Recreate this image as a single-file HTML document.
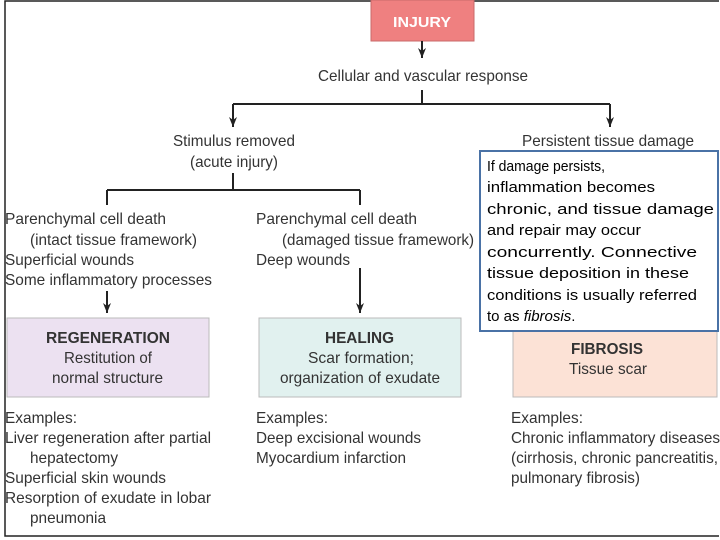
<!DOCTYPE html>
<html><head><meta charset="utf-8"><style>
html,body{margin:0;padding:0;background:#fff;width:720px;height:540px;overflow:hidden}
svg{display:block}
text{font-family:"Liberation Sans",sans-serif;fill:#333;font-size:16px}
.c{font-size:15px;fill:#000}
.b{font-weight:bold}
</style></head><body>
<svg width="720" height="540" viewBox="0 0 720 540">
<defs><marker id="a" markerWidth="11" markerHeight="9" refX="10" refY="4" orient="auto" markerUnits="userSpaceOnUse"><path d="M0,0 L10,4 L0,8 L3,4 Z" fill="#222"/></marker></defs>
<path d="M719,1 H5 V536 H719" fill="none" stroke="#222" stroke-width="1.5"/>
<rect x="371" y="0" width="103" height="41" fill="#ef8080" stroke="#c86a6a"/>
<text x="422" y="27" text-anchor="middle" class="b" style="fill:#fff;font-size:15px" textLength="58" lengthAdjust="spacingAndGlyphs">INJURY</text>
<g stroke="#222" stroke-width="2" fill="none">
<path d="M422,41 V58" marker-end="url(#a)"/>
<path d="M422,90 V104 M233,104 H610"/>
<path d="M233,104 V127" marker-end="url(#a)"/>
<path d="M610,104 V127" marker-end="url(#a)"/>
<path d="M233,173 V190 M107,190 H360 M107,190 V205 M360,190 V205"/>
<path d="M107,291 V313" marker-end="url(#a)"/>
<path d="M360,268 V313" marker-end="url(#a)"/>
</g>
<g>
<text x="318" y="81" textLength="210" lengthAdjust="spacingAndGlyphs">Cellular and vascular response</text>
<text x="173" y="146" textLength="122" lengthAdjust="spacingAndGlyphs">Stimulus removed</text>
<text x="190" y="167" textLength="88" lengthAdjust="spacingAndGlyphs">(acute injury)</text>
<text x="522" y="146" textLength="172" lengthAdjust="spacingAndGlyphs">Persistent tissue damage</text>
<text x="5" y="224" textLength="161" lengthAdjust="spacingAndGlyphs">Parenchymal cell death</text>
<text x="30" y="245" textLength="167" lengthAdjust="spacingAndGlyphs">(intact tissue framework)</text>
<text x="5" y="265" textLength="129" lengthAdjust="spacingAndGlyphs">Superficial wounds</text>
<text x="5" y="285" textLength="207" lengthAdjust="spacingAndGlyphs">Some inflammatory processes</text>
<text x="256" y="224" textLength="161" lengthAdjust="spacingAndGlyphs">Parenchymal cell death</text>
<text x="282" y="245" textLength="192" lengthAdjust="spacingAndGlyphs">(damaged tissue framework)</text>
<text x="256" y="265" textLength="94" lengthAdjust="spacingAndGlyphs">Deep wounds</text>
</g>
<rect x="7" y="318" width="202" height="79" fill="#ece1f1" stroke="#bbb"/>
<rect x="259" y="318" width="202" height="79" fill="#e1f1ef" stroke="#bbb"/>
<rect x="513" y="318" width="204" height="79" fill="#fce2d6" stroke="#bbb"/>
<text x="46" y="343" class="b" textLength="124" lengthAdjust="spacingAndGlyphs">REGENERATION</text>
<text x="64" y="363" textLength="88" lengthAdjust="spacingAndGlyphs">Restitution of</text>
<text x="52" y="383" textLength="111" lengthAdjust="spacingAndGlyphs">normal structure</text>
<text x="325" y="343" class="b" textLength="69" lengthAdjust="spacingAndGlyphs">HEALING</text>
<text x="308" y="363" textLength="106" lengthAdjust="spacingAndGlyphs">Scar formation;</text>
<text x="280" y="383" textLength="160" lengthAdjust="spacingAndGlyphs">organization of exudate</text>
<text x="571" y="354" class="b" textLength="72" lengthAdjust="spacingAndGlyphs">FIBROSIS</text>
<text x="569" y="374" textLength="78" lengthAdjust="spacingAndGlyphs">Tissue scar</text>
<text x="5" y="423" textLength="72" lengthAdjust="spacingAndGlyphs">Examples:</text>
<text x="5" y="443" textLength="206" lengthAdjust="spacingAndGlyphs">Liver regeneration after partial</text>
<text x="30" y="463" textLength="88" lengthAdjust="spacingAndGlyphs">hepatectomy</text>
<text x="5" y="483" textLength="161" lengthAdjust="spacingAndGlyphs">Superficial skin wounds</text>
<text x="5" y="503" textLength="206" lengthAdjust="spacingAndGlyphs">Resorption of exudate in lobar</text>
<text x="30" y="523" textLength="76" lengthAdjust="spacingAndGlyphs">pneumonia</text>
<text x="256" y="423" textLength="72" lengthAdjust="spacingAndGlyphs">Examples:</text>
<text x="256" y="443" textLength="165" lengthAdjust="spacingAndGlyphs">Deep excisional wounds</text>
<text x="256" y="463" textLength="150" lengthAdjust="spacingAndGlyphs">Myocardium infarction</text>
<text x="511" y="423" textLength="72" lengthAdjust="spacingAndGlyphs">Examples:</text>
<text x="511" y="443" textLength="209" lengthAdjust="spacingAndGlyphs">Chronic inflammatory diseases</text>
<text x="511" y="463" textLength="207" lengthAdjust="spacingAndGlyphs">(cirrhosis, chronic pancreatitis,</text>
<text x="511" y="483" textLength="129" lengthAdjust="spacingAndGlyphs">pulmonary fibrosis)</text>
<rect x="480" y="151" width="238" height="180" fill="#fff" stroke="#4a72a6" stroke-width="2"/>
<text class="c" x="487" y="171" textLength="118" lengthAdjust="spacingAndGlyphs">If damage persists,</text>
<text class="c" x="487" y="192" textLength="168" lengthAdjust="spacingAndGlyphs">inflammation becomes</text>
<text class="c" x="487" y="214" textLength="227" lengthAdjust="spacingAndGlyphs">chronic, and tissue damage</text>
<text class="c" x="487" y="235" textLength="154" lengthAdjust="spacingAndGlyphs">and repair may occur</text>
<text class="c" x="487" y="257" textLength="210" lengthAdjust="spacingAndGlyphs">concurrently. Connective</text>
<text class="c" x="487" y="278" textLength="202" lengthAdjust="spacingAndGlyphs">tissue deposition in these</text>
<text class="c" x="487" y="300" textLength="210" lengthAdjust="spacingAndGlyphs">conditions is usually referred</text>
<text class="c" x="487" y="321">to as <tspan font-style="italic">fibrosis</tspan>.</text>
</svg>
</body></html>
